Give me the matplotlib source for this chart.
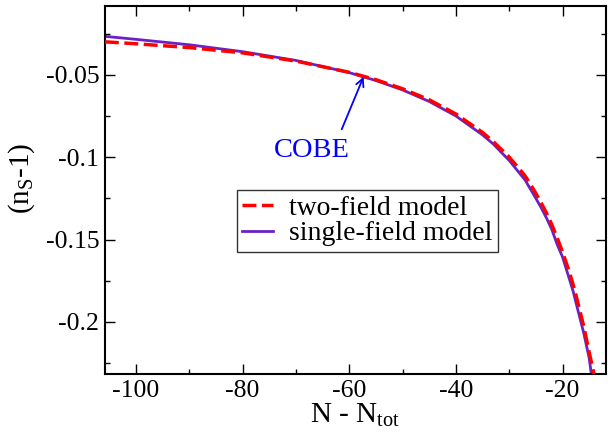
import matplotlib
matplotlib.use("Agg")
import matplotlib.pyplot as plt
from matplotlib.ticker import MultipleLocator

plt.rcParams['font.family'] = ['Liberation Serif', 'DejaVu Serif']
plt.rcParams['mathtext.fontset'] = 'custom'
plt.rcParams['mathtext.rm'] = 'Liberation Serif'
plt.rcParams['mathtext.it'] = 'Liberation Serif:italic'
plt.rcParams['axes.unicode_minus'] = False

# single-field model
n_single = [-105.8, -100, -90, -80, -70, -60, -55, -50, -45, -40, -35, -33,
            -30, -28, -27, -26, -25, -24, -23, -22, -21, -20, -19, -18,
            -17.5, -16, -15, -14.6]
y_single = [-0.0267, -0.0285, -0.0318, -0.0360, -0.0413, -0.0487, -0.0535,
            -0.0592, -0.0662, -0.0750, -0.0865, -0.0920, -0.1020, -0.1100,
            -0.1140, -0.1195, -0.1250, -0.1307, -0.1370, -0.1440, -0.1530,
            -0.1606, -0.1710, -0.1815, -0.1880, -0.2070, -0.2220, -0.2316]

# two-field model
n_two = [-105.8, -100, -90, -80, -70, -60, -55, -50, -45, -40, -35, -33,
         -30, -28, -27, -26, -25, -24, -23, -22, -21, -20, -19, -18,
         -17.5, -16, -15, -14.1]
y_two = [-0.0300, -0.0312, -0.0335, -0.0367, -0.0417, -0.0485, -0.0530,
         -0.0585, -0.0652, -0.0738, -0.0850, -0.0905, -0.1000, -0.1075,
         -0.1115, -0.1165, -0.1220, -0.1278, -0.1340, -0.1410, -0.1490,
         -0.1575, -0.1670, -0.1775, -0.1835, -0.2030, -0.2185, -0.2316]

cobe_point = (-57.3, -0.0512)
cobe_text = (-67.0, -0.0961)
cobe_tail = (-61.4, -0.0831)

fig = plt.figure(figsize=(6.10, 4.33), dpi=100)
ax = fig.add_axes([0.172, 0.1363, 0.821, 0.8505])

ax.plot(n_two, y_two, color='#ff0000', lw=2.5, dashes=(4, 1.6),
        label='two-field model', zorder=3)
ax.plot(n_single, y_single, color='#6a22c8', lw=2.0,
        label='single-field model', zorder=2)

ax.annotate('', xy=cobe_point, xytext=cobe_tail,
            arrowprops=dict(arrowstyle='->', color='#0000ff', lw=1.3,
                            shrinkA=0, shrinkB=0, mutation_scale=14))
ax.text(cobe_text[0], cobe_text[1], 'COBE', color='#0000ff', fontsize=20.5,
        ha='center', va='center')

ax.set_xlim(-105.8, -11.9)
ax.set_ylim(-0.2316, -0.0081)

ax.xaxis.set_major_locator(MultipleLocator(20))
ax.xaxis.set_minor_locator(MultipleLocator(10))
ax.yaxis.set_major_locator(MultipleLocator(0.05))
ax.yaxis.set_minor_locator(MultipleLocator(0.025))
ax.set_yticks([-0.2, -0.15, -0.1, -0.05])
ax.set_yticklabels(['-0.2', '-0.15', '-0.1', '-0.05'])

ax.tick_params(which='both', direction='in', top=True, right=True,
               labelsize=18.5, width=1.0)
ax.tick_params(which='major', length=7, pad=4)
ax.tick_params(which='minor', length=3.5)
for sp in ax.spines.values():
    sp.set_linewidth(1.5)

ax.set_xlabel(r'N - N$_{\mathrm{tot}}$', fontsize=21, labelpad=0)
ax.set_ylabel(r'(n$_{\mathrm{S}}$-1)', fontsize=21)
ax.yaxis.set_label_coords(-0.135, 0.53)

leg = ax.legend(loc='upper left', bbox_to_anchor=(0.263, 0.4996),
                fontsize=20, frameon=True, fancybox=False, shadow=False,
                handlelength=1.1, handletextpad=0.6, labelspacing=0.0,
                borderpad=0.2, borderaxespad=0.0)
leg.get_frame().set_edgecolor('black')
leg.get_frame().set_linewidth(1.0)

fig.savefig('out.png', dpi=100)
